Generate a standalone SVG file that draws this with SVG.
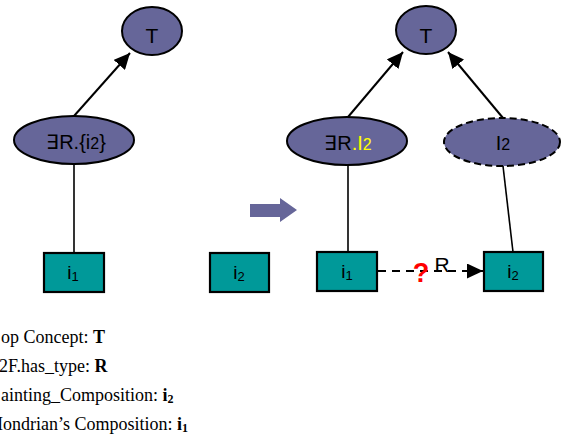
<svg xmlns="http://www.w3.org/2000/svg" width="561" height="438" viewBox="0 0 561 438">
<style>
.concept{fill:#666699;stroke:#000;stroke-width:2}
.dashed{stroke-dasharray:7 4}
.inst{fill:#009999;stroke:#000;stroke-width:2.2}
.lbl{font-family:"Liberation Sans",Arial,sans-serif;fill:#000;text-anchor:middle}
.t{font-size:21px}
.c{font-size:20px}
.cs{font-size:16px}
.b{font-size:19px}
.bs{font-size:13px}
.edge{stroke:#000;stroke-width:2;fill:none}
.link{stroke:#000;stroke-width:1.6;fill:none}
.legend{font-family:"Liberation Serif","Times New Roman",serif;font-size:18px;fill:#000}
.ls{font-size:12px}
.yel{fill:#ffff00}
.q{font-family:"Liberation Sans",Arial,sans-serif;font-weight:bold;font-size:27px;fill:#ff0000;text-anchor:middle}
.r{font-size:21px}
</style>
<defs>
<marker id="ah" markerUnits="userSpaceOnUse" markerWidth="17" markerHeight="15" refX="16" refY="7.5" orient="auto">
<path d="M0,0 L16,7.5 L0,15 z" fill="#000"/>
</marker>
</defs>

<g id="connectors">
<line class="edge" x1="74" y1="116" x2="130" y2="53" marker-end="url(#ah)"/>
<line class="link" x1="74" y1="164" x2="74" y2="253"/>
<line class="edge" x1="348" y1="117" x2="403" y2="52" marker-end="url(#ah)"/>
<line class="edge" x1="503" y1="118" x2="448" y2="52" marker-end="url(#ah)"/>
<line class="link" x1="348" y1="165" x2="348" y2="252"/>
<line class="link" x1="503" y1="166" x2="513" y2="252"/>
<line class="edge" x1="378" y1="271" x2="483" y2="271" stroke-dasharray="8 6" marker-end="url(#ah)"/>
<text class="q" x="421" y="282">?</text>
<text class="lbl r" x="442" y="272">R</text>
</g>

<g id="left-T">
<ellipse class="concept" cx="152" cy="31" rx="30" ry="24"/>
<text class="lbl t" x="152" y="43">T</text>
</g>
<g id="left-exists">
<ellipse class="concept" cx="74" cy="140" rx="60" ry="24"/>
<text class="lbl c" x="76" y="149">∃R.{i<tspan class="cs">2</tspan>}</text>
</g>
<g id="left-i1">
<rect class="inst" x="44" y="253" width="60" height="39"/>
<text class="lbl b" x="73" y="279">i<tspan class="bs" dy="2">1</tspan></text>
</g>
<g id="mid-i2">
<rect class="inst" x="210" y="253" width="59" height="39"/>
<text class="lbl b" x="239" y="279">i<tspan class="bs" dy="2">2</tspan></text>
</g>

<g id="transition-arrow">
<polygon points="250,204 280,204 280,198 297,210 280,222 280,217 250,217" fill="#666699"/>
</g>

<g id="right-T">
<ellipse class="concept" cx="426" cy="30" rx="30" ry="24"/>
<text class="lbl t" x="426" y="43">T</text>
</g>
<g id="right-exists">
<ellipse class="concept" cx="347" cy="141" rx="60" ry="24"/>
<text class="lbl c" x="348" y="150">∃R<tspan class="yel">.I</tspan><tspan class="yel cs">2</tspan></text>
</g>
<g id="right-I2">
<ellipse class="concept dashed" cx="502" cy="142" rx="58" ry="24"/>
<text class="lbl c" x="503" y="150">I<tspan class="cs">2</tspan></text>
</g>
<g id="right-i1">
<rect class="inst" x="317" y="252" width="60" height="39"/>
<text class="lbl b" x="347" y="278">i<tspan class="bs" dy="2">1</tspan></text>
</g>
<g id="right-i2">
<rect class="inst" x="484" y="252" width="59" height="39"/>
<text class="lbl b" x="513" y="278">i<tspan class="bs" dy="2">2</tspan></text>
</g>

<g id="legend">
<text class="legend" x="1" y="343">op Concept: <tspan font-weight="bold">T</tspan></text>
<text class="legend" x="-1" y="372">2F.has_type: <tspan font-weight="bold">R</tspan></text>
<text class="legend" x="1" y="401">ainting_Composition: <tspan font-weight="bold">i<tspan class="ls" dy="2">2</tspan></tspan></text>
<text class="legend" x="-13" y="430">Mondrian’s Composition: <tspan font-weight="bold">i<tspan class="ls" dy="2">1</tspan></tspan></text>
</g>
</svg>
